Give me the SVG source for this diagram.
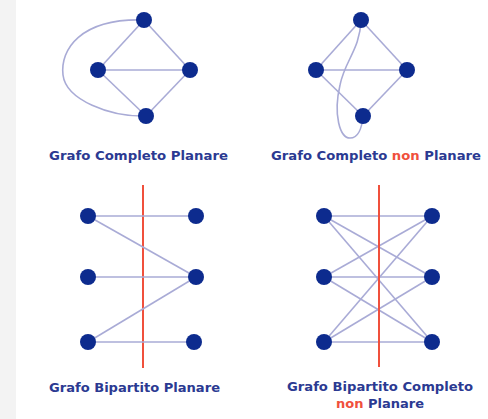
<svg xmlns="http://www.w3.org/2000/svg" width="488" height="419" viewBox="0 0 488 419">
<style>
.n{fill:#0d2b8e}
.e{stroke:#a9abd6;stroke-width:1.6;fill:none}
.r{stroke:#f0503c;stroke-width:2;fill:none}
.t{font-family:"DejaVu Sans",Verdana,sans-serif;font-weight:bold;font-size:12px;fill:#2b3a92;text-anchor:middle}
.red{fill:#f0503c}
</style>
<rect width="488" height="419" fill="#ffffff"/>
<rect width="16" height="419" fill="#f3f3f3"/>
<g id="connectors">
<line class="e" x1="144" y1="20" x2="98" y2="70"/>
<line class="e" x1="144" y1="20" x2="190" y2="70"/>
<line class="e" x1="98" y1="70" x2="190" y2="70"/>
<line class="e" x1="98" y1="70" x2="146" y2="116"/>
<line class="e" x1="190" y1="70" x2="146" y2="116"/>
<path class="e" d="M144 20 C 80 18 60 50 63 75 C 66 100 110 117 146 116"/>
<line class="e" x1="361" y1="20" x2="316" y2="70"/>
<line class="e" x1="361" y1="20" x2="407" y2="70"/>
<line class="e" x1="316" y1="70" x2="407" y2="70"/>
<line class="e" x1="316" y1="70" x2="363" y2="116"/>
<line class="e" x1="407" y1="70" x2="363" y2="116"/>
<path class="e" d="M361 20 C 360 50 345 60 340 85 C 333 115 340 138 350 138 C 358 138 362 128 363 116"/>
<line class="r" x1="143" y1="185" x2="143" y2="368"/>
<line class="e" x1="88" y1="216" x2="196" y2="216"/>
<line class="e" x1="88" y1="216" x2="196" y2="277"/>
<line class="e" x1="88" y1="277" x2="196" y2="277"/>
<line class="e" x1="88" y1="342" x2="196" y2="277"/>
<line class="e" x1="88" y1="342" x2="194" y2="342"/>
<line class="e" x1="324" y1="216" x2="432" y2="216"/>
<line class="e" x1="324" y1="216" x2="432" y2="277"/>
<line class="e" x1="324" y1="216" x2="432" y2="342"/>
<line class="e" x1="324" y1="277" x2="432" y2="216"/>
<line class="e" x1="324" y1="277" x2="432" y2="277"/>
<line class="e" x1="324" y1="277" x2="432" y2="342"/>
<line class="e" x1="324" y1="342" x2="432" y2="216"/>
<line class="e" x1="324" y1="342" x2="432" y2="277"/>
<line class="e" x1="324" y1="342" x2="432" y2="342"/>
<line class="r" x1="379" y1="185" x2="379" y2="367"/>
</g>
<g id="g1">
<circle id="a1" class="n" cx="144" cy="20" r="8"/>
<circle id="a2" class="n" cx="98" cy="70" r="8"/>
<circle id="a3" class="n" cx="190" cy="70" r="8"/>
<circle id="a4" class="n" cx="146" cy="116" r="8"/>
<text class="t" x="138.5" y="160" textLength="179" lengthAdjust="spacingAndGlyphs">Grafo Completo Planare</text>
</g>
<g id="g2">
<circle id="b1" class="n" cx="361" cy="20" r="8"/>
<circle id="b2" class="n" cx="316" cy="70" r="8"/>
<circle id="b3" class="n" cx="407" cy="70" r="8"/>
<circle id="b4" class="n" cx="363" cy="116" r="8"/>
<text class="t" x="376" y="160" textLength="210" lengthAdjust="spacingAndGlyphs">Grafo Completo <tspan class="red">non</tspan> Planare</text>
</g>
<g id="g3">
<circle id="c1" class="n" cx="88" cy="216" r="8"/>
<circle id="c2" class="n" cx="88" cy="277" r="8"/>
<circle id="c3" class="n" cx="88" cy="342" r="8"/>
<circle id="c4" class="n" cx="196" cy="216" r="8"/>
<circle id="c5" class="n" cx="196" cy="277" r="8"/>
<circle id="c6" class="n" cx="194" cy="342" r="8"/>
<text class="t" x="134.5" y="392" textLength="171" lengthAdjust="spacingAndGlyphs">Grafo Bipartito Planare</text>
</g>
<g id="g4">
<circle id="d1" class="n" cx="324" cy="216" r="8"/>
<circle id="d2" class="n" cx="324" cy="277" r="8"/>
<circle id="d3" class="n" cx="324" cy="342" r="8"/>
<circle id="d4" class="n" cx="432" cy="216" r="8"/>
<circle id="d5" class="n" cx="432" cy="277" r="8"/>
<circle id="d6" class="n" cx="432" cy="342" r="8"/>
<text class="t" x="380" y="391" textLength="186" lengthAdjust="spacingAndGlyphs">Grafo Bipartito Completo</text>
<text class="t" x="380" y="408" textLength="88" lengthAdjust="spacingAndGlyphs"><tspan class="red">non</tspan> Planare</text>
</g>
</svg>
